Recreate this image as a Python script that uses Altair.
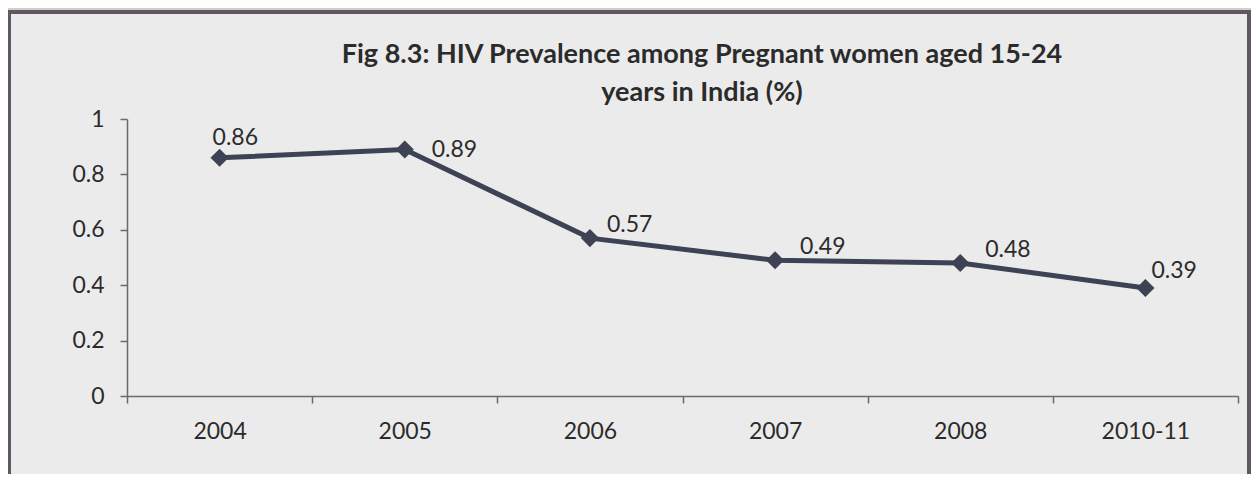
import altair as alt
import pandas as pd

years = ["2004", "2005", "2006", "2007", "2008", "2010-11"]
prevalence = [0.86, 0.89, 0.57, 0.49, 0.48, 0.39]
y_ticks = [0, 0.2, 0.4, 0.6, 0.8, 1]
title_lines = ["Fig 8.3: HIV Prevalence among Pregnant women aged 15-24", "years in India (%)"]

df = pd.DataFrame({"year": years, "value": prevalence})

W, H = 1111, 277
LINE = "#3d4254"
FONT = "Lato"
TXT = "#2b2b2b"

base = alt.Chart(df)

x_enc = alt.X("year:N", sort=years,
              scale=alt.Scale(type="band", paddingInner=0, paddingOuter=0),
              axis=alt.Axis(title=None, labelAngle=0, tickBand="extent", grid=False,
                            labelFont=FONT, labelFontSize=23, labelColor=TXT,
                            labelPadding=17, tickSize=7, tickColor="#6a6a6a",
                            domainColor="#6a6a6a", domainWidth=1.5, tickWidth=1.5,
                            zindex=1))
y_enc = alt.Y("value:Q", scale=alt.Scale(domain=[0, 1], nice=False),
              axis=alt.Axis(title=None, values=y_ticks, format="~g", grid=False,
                            labelFont=FONT, labelFontSize=23, labelColor=TXT,
                            labelPadding=16, tickSize=7, tickColor="#6a6a6a",
                            domainColor="#6a6a6a", domainWidth=1.5, tickWidth=1.5,
                            zindex=1))

line = base.mark_line(color=LINE, strokeWidth=5).encode(x=x_enc, y=y_enc)
pts = base.mark_point(shape="diamond", filled=True, size=330, color=LINE, opacity=1).encode(
    x=alt.X("year:N", sort=years), y="value:Q")

def labels(filter_expr, dx, dy):
    return base.transform_filter(filter_expr).mark_text(
        align="left", baseline="middle", dx=dx, dy=dy, font=FONT, fontSize=23,
        color=TXT).encode(x=alt.X("year:N", sort=years), y="value:Q",
                          text=alt.Text("value:Q", format=".2f"))

lab1 = labels("datum.year == '2004'", -7, -20)
lab2 = labels("datum.year == '2005'", 27, 1)
lab3 = labels("datum.year == '2006'", 17, -13)
lab4 = labels("datum.year == '2007' || datum.year == '2008'", 25, -13)
lab5 = labels("datum.year == '2010-11'", 6, -17)

one = alt.Data(values=[{"k": 0}])
strip = alt.Chart(one).mark_rect(color="#d6cdc9").encode(
    x=alt.value(-119), x2=alt.value(1124), y=alt.value(-111), y2=alt.value(-108))
border = alt.Chart(one).mark_rect(fillOpacity=0, stroke="#5f5862", strokeWidth=4).encode(
    x=alt.value(-118), x2=alt.value(1122), y=alt.value(-107), y2=alt.value(370))

def title_line(txt, ypos):
    return alt.Chart(one).mark_text(
        text=txt, font=FONT, fontSize=27, fontWeight="bold", color=TXT,
        align="center", baseline="alphabetic").encode(
        x=alt.value(575), y=alt.value(ypos))

t1 = title_line(title_lines[0], -56)
t2 = title_line(title_lines[1], -18)

chart = alt.layer(strip, border, t1, t2, line, pts, lab1, lab2, lab3, lab4, lab5).properties(
    width=W, height=H,
    padding={"left": 119, "top": 111, "right": 13, "bottom": 78},
    autosize=alt.AutoSizeParams(type="none"),
    background="#ebebeb",
).configure_view(stroke=None)

chart.save("out.html", embed_options={"renderer": "svg", "actions": False})
